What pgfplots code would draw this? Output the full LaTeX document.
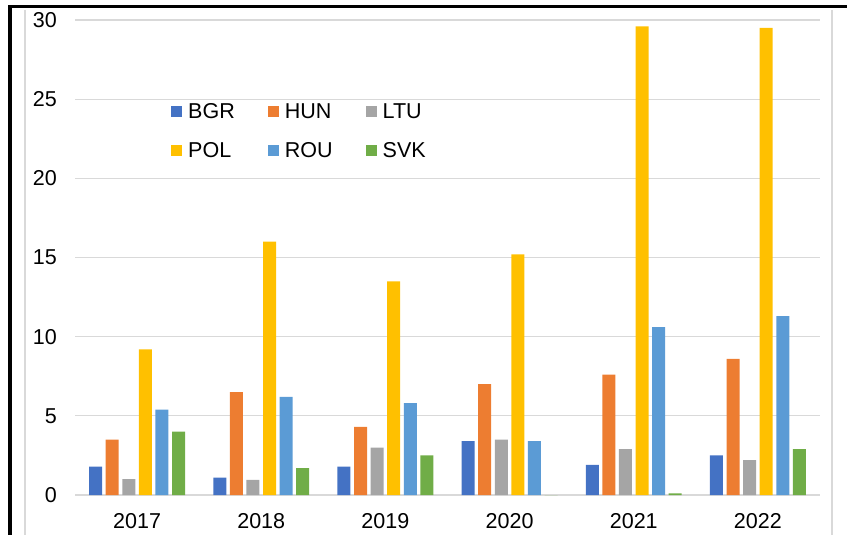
\documentclass[border=0pt]{standalone}
\usepackage{pgfplots}
\pgfplotsset{compat=1.18}
\usepackage{pgfplotstable}
\usepackage{fontspec}
\setmainfont{Liberation Sans}
\definecolor{cBGR}{HTML}{4472C4}
\definecolor{cHUN}{HTML}{ED7D31}
\definecolor{cLTU}{HTML}{A5A5A5}
\definecolor{cPOL}{HTML}{FFC000}
\definecolor{cROU}{HTML}{5B9BD5}
\definecolor{cSVK}{HTML}{70AD47}
\definecolor{gridc}{HTML}{D9D9D9}
\pgfplotstableread{
x BGR HUN LTU POL ROU SVK
0 1.8 3.5 1.0 9.2 5.4 4.0
1 1.1 6.5 0.95 16.0 6.2 1.7
2 1.8 4.3 3.0 13.5 5.8 2.5
3 3.4 7.0 3.5 15.2 3.4 0
4 1.9 7.6 2.9 29.6 10.6 0.1
5 2.5 8.6 2.2 29.5 11.3 2.9
}\data
\begin{document}
\begin{tikzpicture}[x=1bp,y=-1bp]
\useasboundingbox (0,0) rectangle (847,535);
\draw[gridc,line width=1.2bp] (25,10) -- (25,535);
\draw[gridc,line width=1.2bp] (832,10) -- (832,535);
\begin{axis}[
  at={(75bp,-495bp)}, anchor=south west,
  scale only axis, width=745bp, height=475bp,
  xmin=-0.5, xmax=5.5, ymin=0, ymax=30,
  xtick={0,1,2,3,4,5},
  xticklabels={2017,2018,2019,2020,2021,2022},
  ytick={0,5,10,15,20,25,30},
  major tick length=0pt,
  axis line style={draw=none},
  ymajorgrids, grid style={gridc,line width=1.2bp},
  /pgf/number format/assume math mode=true,
  tick label style={font=\fontsize{21.6}{26}\selectfont},
  yticklabel style={inner sep=0pt, xshift=-18bp},
  xticklabel style={inner sep=0pt, yshift=-18bp},
  bar width=0.1047,
  legend columns=3,
  legend style={draw=none, fill=none, inner sep=0pt,
    at={(0.1289,0.8246)}, anchor=north west,
    font=\fontsize{21.6}{26}\selectfont,
    nodes={inner sep=0pt, text height=15.4bp, text depth=0bp},
    row sep=23.6bp,
    /tikz/every odd column/.append style={column sep=6bp},
    /tikz/every even column/.append style={column sep=33bp}},
  legend cell align=left,
  legend image code/.code={\fill[#1] (0bp,-5.5bp) rectangle (11bp,5.5bp);},
]
\addplot[ybar, fill=cBGR, draw=none, bar shift=-0.334] table[x=x,y=BGR]{\data};
\addplot[ybar, fill=cHUN, draw=none, bar shift=-0.2005] table[x=x,y=HUN]{\data};
\addplot[ybar, fill=cLTU, draw=none, bar shift=-0.0668] table[x=x,y=LTU]{\data};
\addplot[ybar, fill=cPOL, draw=none, bar shift=0.0668] table[x=x,y=POL]{\data};
\addplot[ybar, fill=cROU, draw=none, bar shift=0.2005] table[x=x,y=ROU]{\data};
\addplot[ybar, fill=cSVK, draw=none, bar shift=0.334] table[x=x,y=SVK]{\data};
\legend{BGR,HUN,LTU,POL,ROU,SVK}
\end{axis}
\draw[black,line width=3.4bp] (10,535) -- (10,6.3) -- (847,6.3);
\end{tikzpicture}
\end{document}
